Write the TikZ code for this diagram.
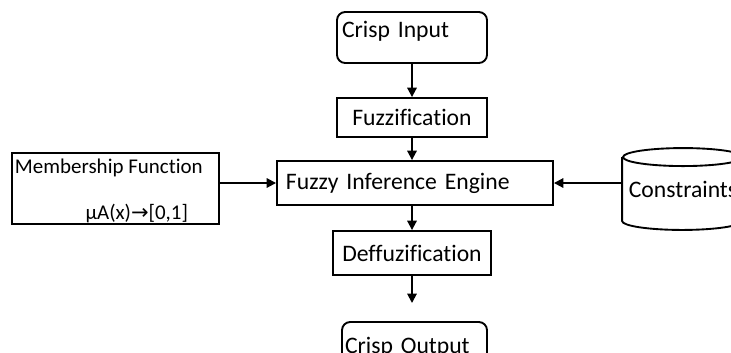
\documentclass[tikz,border=0pt]{standalone}
\usepackage{fontspec}
\setmainfont[Ligatures={NoCommon}]{Carlito}
\newfontfamily\arrowfont{DejaVu Sans}
\usetikzlibrary{arrows.meta, positioning}

\begin{document}
\begin{tikzpicture}[
    x=0.03cm, y=-0.03cm,
    line width=1.6pt,
    block/.style={
      rectangle, draw=black, inner sep=0pt,
      font=\fontsize{20.2}{24}\selectfont
    },
    io/.style={block, rounded corners=7pt},
    small/.style={inner sep=0pt, font=\fontsize{17.9}{21}\selectfont},
    flow/.style={-{Triangle[length=8pt, width=8pt]}, line width=1.6pt},
  ]
  \clip (0,0) rectangle (731,352);

  % main chain
  \node[io, minimum width=4.5cm, minimum height=1.53cm, text width=4.2cm, align=left,
        text height=0.5cm, text depth=0.5cm] (input) at (412,37.5) {Crisp Input};
  \node[block, minimum width=4.5cm, minimum height=1.17cm] (fuzz) at (412,117.5) {Fuzzification};
  \node[block, minimum width=8.28cm, minimum height=1.32cm, text width=7.74cm, align=left] (engine) at (415,183) {Fuzzy Inference Engine};
  \node[block, minimum width=4.74cm, minimum height=1.32cm] (defuzz) at (412,253) {Deffuzification};
  \coordinate (defuzzout) at (413,303);
  \node[io, minimum width=4.35cm, minimum height=1.5cm, text width=4.17cm, align=left] (output) at (414.5,347) {Crisp Output};

  % membership function box
  \node[block, minimum width=6.21cm, minimum height=2.13cm] (member) at (115.5,188.5) {};
  \node[small, anchor=west] (membertitle) at ([xshift=0.09cm, yshift=-0.48cm]member.north west) {Membership Function};
  \node[small, anchor=east] (membermap) at ([xshift=-0.93cm, yshift=0.33cm]member.south east) {μA(x){\arrowfont →}[0,1]};

  % constraints store
  \node[rectangle, inner sep=0pt, minimum width=3.6cm, minimum height=1.86cm,
        font=\fontsize{20.2}{24}\selectfont] (store) at (683,189) {Constraints};
  \draw (store.north west) -- (store.south west)
    arc[start angle=180, end angle=360, x radius=1.8cm, y radius=0.27cm]
    -- (store.north east);
  \draw (store.north) ellipse[x radius=1.8cm, y radius=0.27cm];

  % connectors
  \draw[flow] (input.south -| fuzz.north) -- (fuzz.north);
  \draw[flow] (fuzz.south) -- (fuzz.south |- engine.north);
  \draw[flow] (defuzz.north |- engine.south) -- (defuzz.north);
  \draw[flow] (defuzz.south) -- (defuzz.south |- defuzzout);
  \draw[flow] (engine.west -| member.east) -- (engine.west);
  \draw[flow] (engine.east -| store.west) -- (engine.east);
\end{tikzpicture}
\end{document}
